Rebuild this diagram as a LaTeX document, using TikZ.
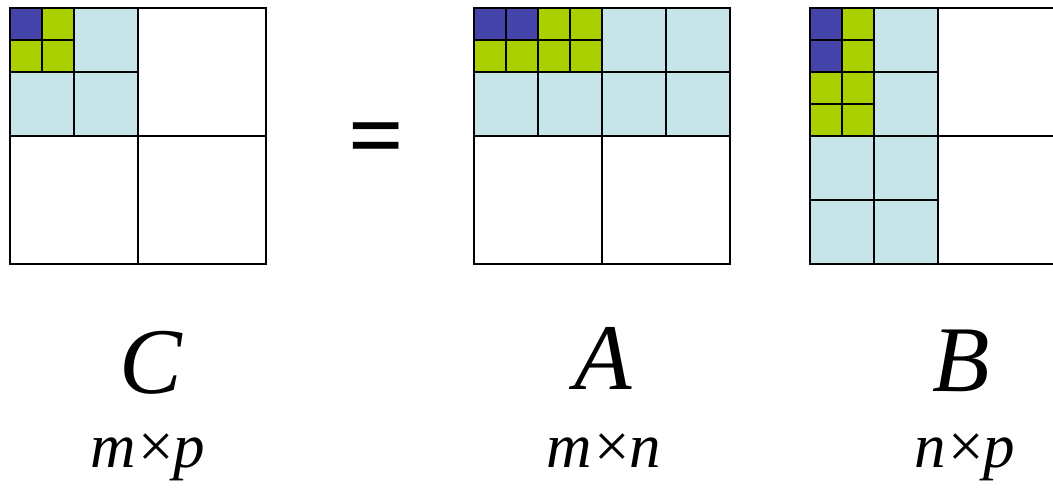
\documentclass[tikz,border=0pt]{standalone}
\usepackage{fontspec}
\setmainfont{Liberation Serif}
\definecolor{cblue}{RGB}{68,68,170}
\definecolor{cgreen}{RGB}{170,208,0}
\definecolor{clight}{RGB}{199,228,232}
\begin{document}
\begin{tikzpicture}[x=1pt,y=-1pt,
  grid/.style={draw=black,line width=1.9pt},
  big/.style={grid,fill=white},
  mid/.style={grid,fill=clight},
  bl/.style={grid,fill=cblue},
  gr/.style={grid,fill=cgreen},
  mtxname/.style={font=\fontsize{94}{94}\selectfont\itshape,anchor=base,inner sep=0pt},
  mtxdim/.style={font=\fontsize{63}{63}\selectfont\itshape,anchor=base,inner sep=0pt}]
\useasboundingbox (0,0) rectangle (1053,499);
\begin{scope}
\clip (0,0) rectangle (1053,499);
% ---- C ----
\foreach \x/\y in {10/8,138/8,10/136,138/136} \path[big] (\x,\y) rectangle ++(128,128);
\foreach \x/\y in {10/8,74/8,10/72,74/72} \path[mid] (\x,\y) rectangle ++(64,64);
\path[bl] (10,8) rectangle ++(32,32);
\foreach \x/\y in {42/8,10/40,42/40} \path[gr] (\x,\y) rectangle ++(32,32);
% ---- A ----
\foreach \x in {474,602} \path[big] (\x,136) rectangle ++(128,128);
\foreach \x in {474,538,602,666} \foreach \y in {8,72} \path[mid] (\x,\y) rectangle ++(64,64);
\foreach \x in {474,506} \path[bl] (\x,8) rectangle ++(32,32);
\foreach \x/\y in {538/8,570/8,474/40,506/40,538/40,570/40} \path[gr] (\x,\y) rectangle ++(32,32);
% ---- B ----
\foreach \y in {8,136} \path[big] (938,\y) rectangle ++(128,128);
\foreach \x in {810,874} \foreach \y in {8,72,136,200} \path[mid] (\x,\y) rectangle ++(64,64);
\foreach \y in {8,40} \path[bl] (810,\y) rectangle ++(32,32);
\foreach \x/\y in {810/72,810/104,842/8,842/40,842/72,842/104} \path[gr] (\x,\y) rectangle ++(32,32);
\end{scope}
% ---- equals ----
\node[font=\fontsize{98}{98}\selectfont\bfseries,inner sep=0pt] (eq) at (376,146) {=};
% ---- labels ----
\node[mtxname] (lC) at (151,393) {C};
\node[mtxname] (lA) at (603,389) {A};
\node[mtxname] (lB) at (961,391) {B};
\node[mtxdim] (dC) at (148,467) {m\kern-2pt×\kern-3pt p};
\node[mtxdim] (dA) at (604,467) {m\kern-2pt×\kern-3pt n};
\node[mtxdim] (dB) at (965,467) {n\kern-2pt×\kern-3pt p};
\end{tikzpicture}
\end{document}
